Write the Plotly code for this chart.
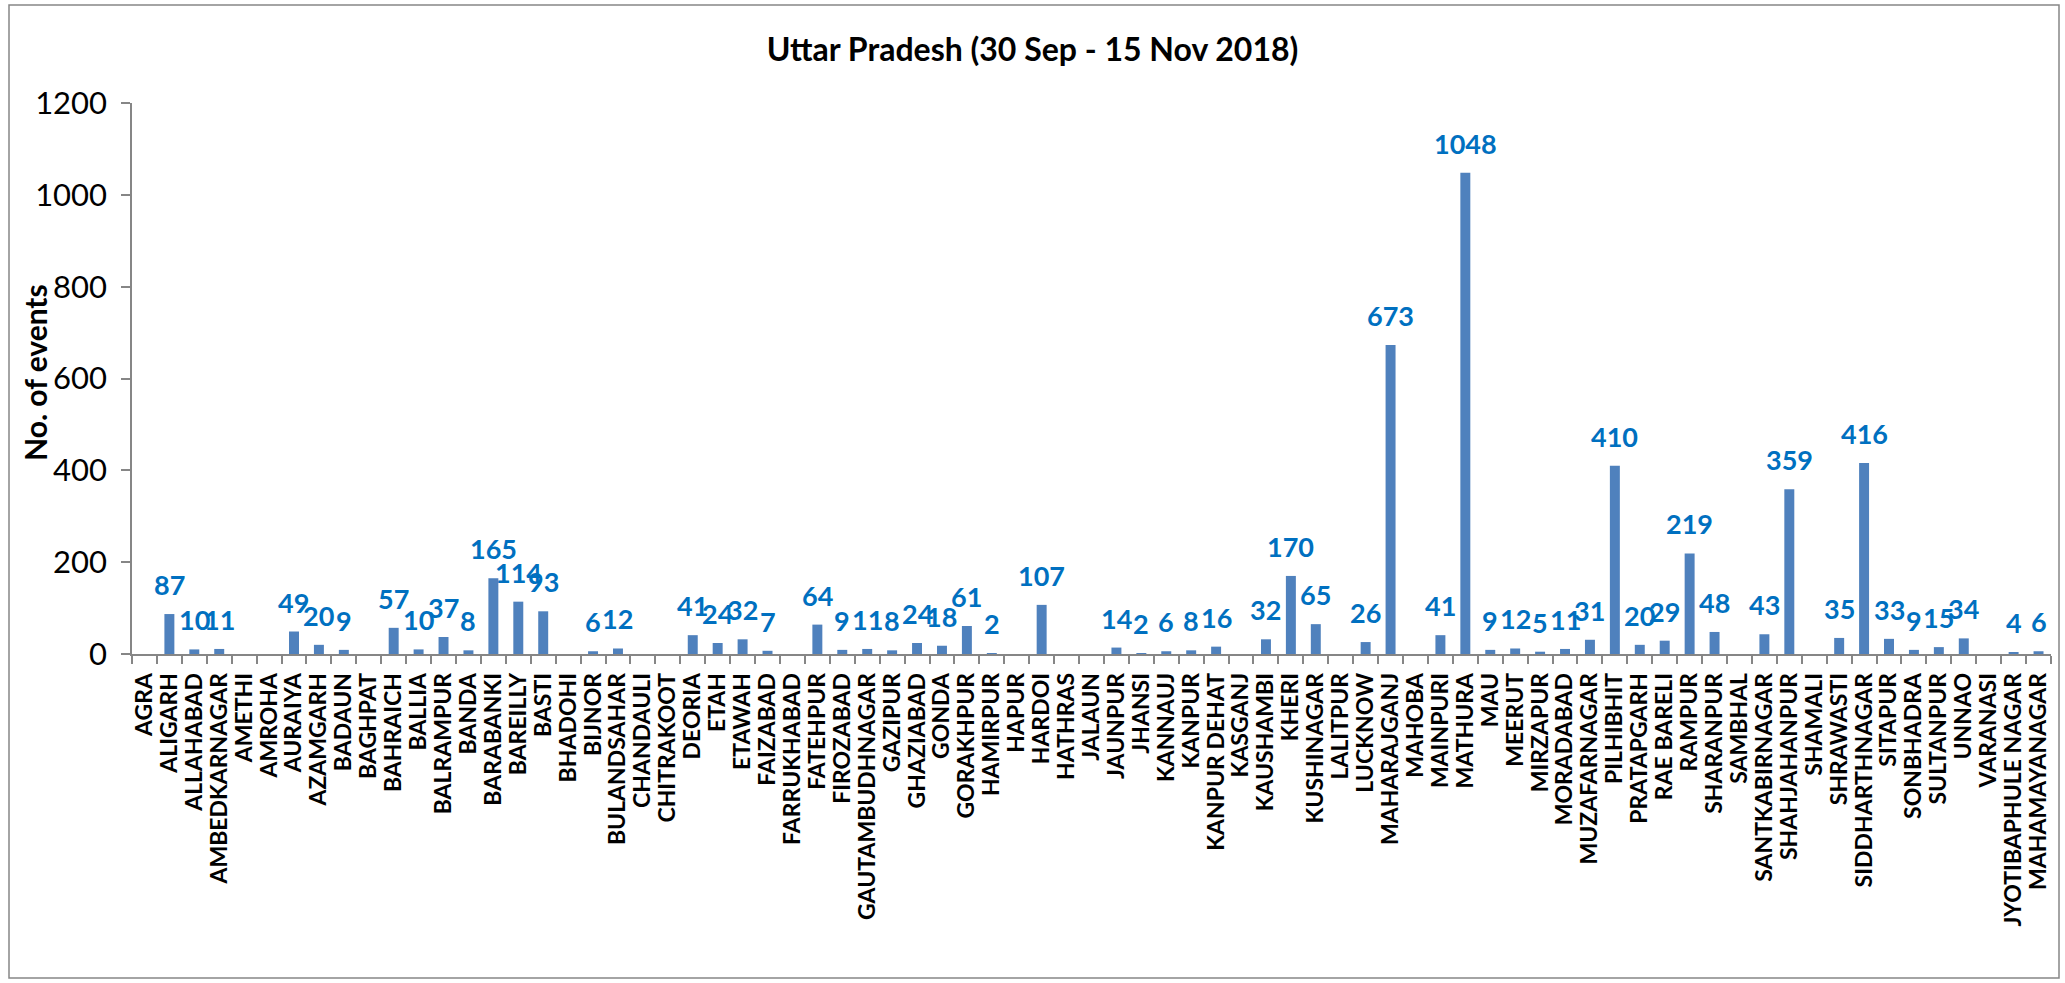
import plotly.graph_objects as go

districts = ["AGRA", "ALIGARH", "ALLAHABAD", "AMBEDKARNAGAR", "AMETHI", "AMROHA", "AURAIYA",
             "AZAMGARH", "BADAUN", "BAGHPAT", "BAHRAICH", "BALLIA", "BALRAMPUR", "BANDA",
             "BARABANKI", "BAREILLY", "BASTI", "BHADOHI", "BIJNOR", "BULANDSAHAR", "CHANDAULI",
             "CHITRAKOOT", "DEORIA", "ETAH", "ETAWAH", "FAIZABAD", "FARRUKHABAD", "FATEHPUR",
             "FIROZABAD", "GAUTAMBUDHNAGAR", "GAZIPUR", "GHAZIABAD", "GONDA", "GORAKHPUR",
             "HAMIRPUR", "HAPUR", "HARDOI", "HATHRAS", "JALAUN", "JAUNPUR", "JHANSI", "KANNAUJ",
             "KANPUR", "KANPUR DEHAT", "KASGANJ", "KAUSHAMBI", "KHERI", "KUSHINAGAR", "LALITPUR",
             "LUCKNOW", "MAHARAJGANJ", "MAHOBA", "MAINPURI", "MATHURA", "MAU", "MEERUT",
             "MIRZAPUR", "MORADABAD", "MUZAFARNAGAR", "PILHIBHIT", "PRATAPGARH", "RAE BARELI",
             "RAMPUR", "SHARANPUR", "SAMBHAL", "SANTKABIRNAGAR", "SHAHJAHANPUR", "SHAMALI",
             "SHRAWASTI", "SIDDHARTHNAGAR", "SITAPUR", "SONBHADRA", "SULTANPUR", "UNNAO",
             "VARANASI", "JYOTIBAPHULE NAGAR", "MAHAMAYANAGAR"]

events = [None, 87, 10, 11, None, None, 49,
          20, 9, None, 57, 10, 37, 8,
          165, 114, 93, None, 6, 12, None,
          None, 41, 24, 32, 7, None, 64,
          9, 11, 8, 24, 18, 61,
          2, None, 107, None, None, 14, 2, 6,
          8, 16, None, 32, 170, 65, None,
          26, 673, None, 41, 1048, 9, 12,
          5, 11, 31, 410, 20, 29,
          219, 48, None, 43, 359, None,
          35, 416, 33, 9, 15, 34,
          None, 4, 6]

y_ticks = [0, 200, 400, 600, 800, 1000, 1200]
title_text = "Uttar Pradesh (30 Sep - 15 Nov 2018)"
y_title = "No. of events"

W, H = 2065, 983
L, R, T, B = 132, 14, 103, 329
pw = W - L - R
ph = H - T - B

AXIS = "#868686"
BAR = "#4F81BD"
LBL = "#0070C0"
FONT = "Lato"

fig = go.Figure()
fig.add_trace(go.Bar(
    x=districts, y=events, marker=dict(color=BAR, line=dict(width=0)),
    hoverinfo="x+y",
))

annotations = []
for d, v in zip(districts, events):
    if v is None:
        continue
    annotations.append(dict(
        x=d, y=v, xref="x", yref="y", text="<b>" + str(v) + "</b>", showarrow=False,
        yanchor="bottom", xanchor="center", yshift=11,
        font=dict(family=FONT, size=27, color=LBL),
    ))

annotations.append(dict(
    x=(35 - L) / pw, y=(H - B - 373) / ph, xref="paper", yref="paper",
    text="<b>" + y_title + "</b>", textangle=-90, showarrow=False,
    xanchor="center", yanchor="middle",
    font=dict(family=FONT, size=30, color="black"),
))

fig.update_layout(
    width=W, height=H,
    margin=dict(l=L, r=R, t=T, b=B, autoexpand=False),
    paper_bgcolor="white", plot_bgcolor="white",
    bargap=0.6,
    showlegend=False,
    title=dict(text="<b>" + title_text + "</b>", x=0.5, xref="container",
               y=1 - 50 / H, yref="container", yanchor="middle", xanchor="center",
               font=dict(family=FONT, size=32, color="black")),
    annotations=annotations,
    shapes=[dict(type="rect", xref="paper", yref="paper",
                 x0=(9 - L) / pw, x1=(2059 - L) / pw,
                 y0=(H - B - 978) / ph, y1=(H - B - 5) / ph,
                 line=dict(color=AXIS, width=1.5), fillcolor="rgba(0,0,0,0)", layer="below")],
    xaxis=dict(
        type="category", tickangle=-90, showline=True, linecolor=AXIS, linewidth=1.5,
        tickmode="array", tickvals=districts, ticktext=["<b>" + d + "</b>" for d in districts],
        ticks="outside", tickson="boundaries", ticklen=8, tickcolor=AXIS, tickwidth=1.5,
        showgrid=False, ticklabelstandoff=8,
        tickfont=dict(family=FONT, size=23, color="black"),
        range=[-0.5, len(districts) - 0.5],
    ),
    yaxis=dict(
        range=[0, 1200], tickvals=y_ticks, showline=True, linecolor=AXIS, linewidth=1.5,
        ticks="outside", ticklen=9, tickcolor=AXIS, tickwidth=1.5, showgrid=False,
        zeroline=False, ticklabelstandoff=8,
        tickfont=dict(family=FONT, size=31, color="black"),
    ),
)

fig.write_html("out.html", config={"displayModeBar": False},
               post_script="document.body.style.margin='0';")
